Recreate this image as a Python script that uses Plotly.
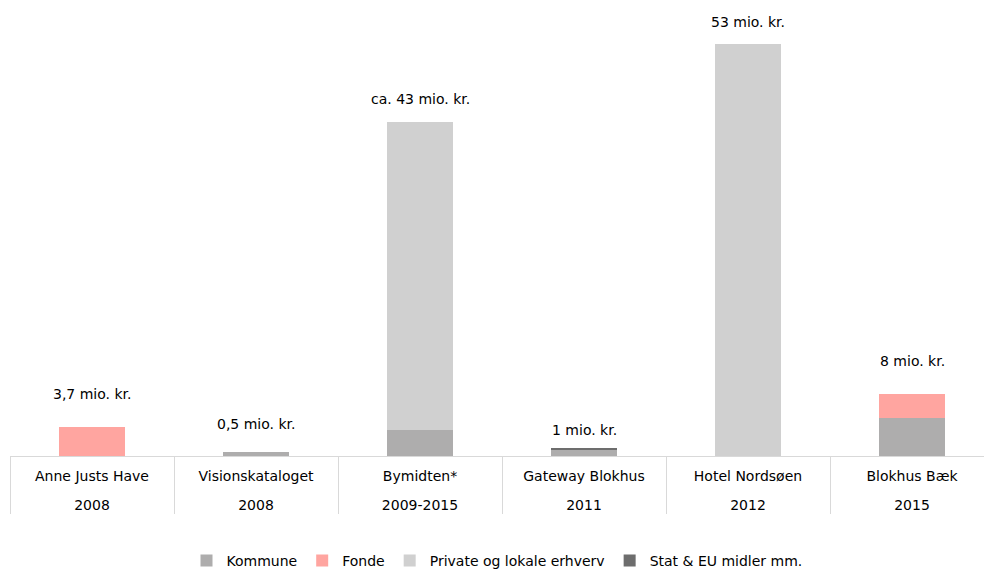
import plotly.graph_objects as go

# Projects and their year of realisation
projects = ["Anne Justs Have", "Visionskataloget", "Bymidten*", "Gateway Blokhus",
            "Hotel Nordsøen", "Blokhus Bæk"]
years = ["2008", "2008\u200b", "2009-2015", "2011", "2012", "2015"]

# Investment per funding source (mio. kr.)
kommune = [0, 0.5, 3.4, 0.8, 0, 4.9]
fonde = [3.7, 0, 0, 0, 0, 3.1]
private = [0, 0, 39.6, 0, 53, 0]
stat_eu = [0, 0, 0, 0.2, 0, 0]

# Total labels shown above each project
total_labels = ["3,7 mio. kr.", "0,5 mio. kr.", "ca. 43 mio. kr.", "1 mio. kr.",
                "53 mio. kr.", "8 mio. kr."]
label_lift = [33, 28, 23, 18, 22, 33]

FONT = "DejaVu Sans"
GRID = "#d9d9d9"

series = [
    ("Kommune", kommune, "#aeadad"),
    ("Fonde", fonde, "#ffa5a0"),
    ("Private og lokale erhverv", private, "#d0d0d0"),
    ("Stat & EU midler mm.", stat_eu, "#6d6d6d"),
]

# Project names get a blank second line so the year row sits lower in the table
project_cells = [p + "<br>\u00a0" for p in projects]

fig = go.Figure()
for name, vals, color in series:
    fig.add_trace(go.Bar(
        x=[years, project_cells], y=vals, name=name,
        marker=dict(color=color, line=dict(width=0)),
        width=0.4,
    ))

totals = [sum(v) for v in zip(kommune, fonde, private, stat_eu)]
for i, (txt, tot, lift) in enumerate(zip(total_labels, totals, label_lift)):
    fig.add_annotation(x=i, y=tot, text=txt, showarrow=False,
                       yanchor="middle", yshift=lift,
                       font=dict(family=FONT, size=14, color="#000000"))

fig.update_layout(
    width=984, height=569,
    margin=dict(l=10, r=0, t=0, b=113, autoexpand=False),
    paper_bgcolor="white", plot_bgcolor="white",
    barmode="stack", bargap=0.6,
    font=dict(family=FONT, size=14, color="#000000"),
    showlegend=True,
    legend=dict(orientation="h", x=0.5, xanchor="center", y=-0.23, yanchor="middle",
                font=dict(family=FONT, size=14, color="#000000"),
                traceorder="normal"),
)
fig.update_xaxes(
    type="multicategory",
    range=[-0.5, -0.5 + 974 / 164],
    showline=True, linecolor=GRID, linewidth=1,
    showdividers=True, dividercolor=GRID, dividerwidth=1,
    ticks="", showgrid=False, zeroline=False,
    ticklabelstandoff=7,
    tickfont=dict(family=FONT, size=14, color="#000000"),
)
fig.update_yaxes(range=[0, 58.65], visible=False, showgrid=False, zeroline=False)

fig.write_html("out.html")
